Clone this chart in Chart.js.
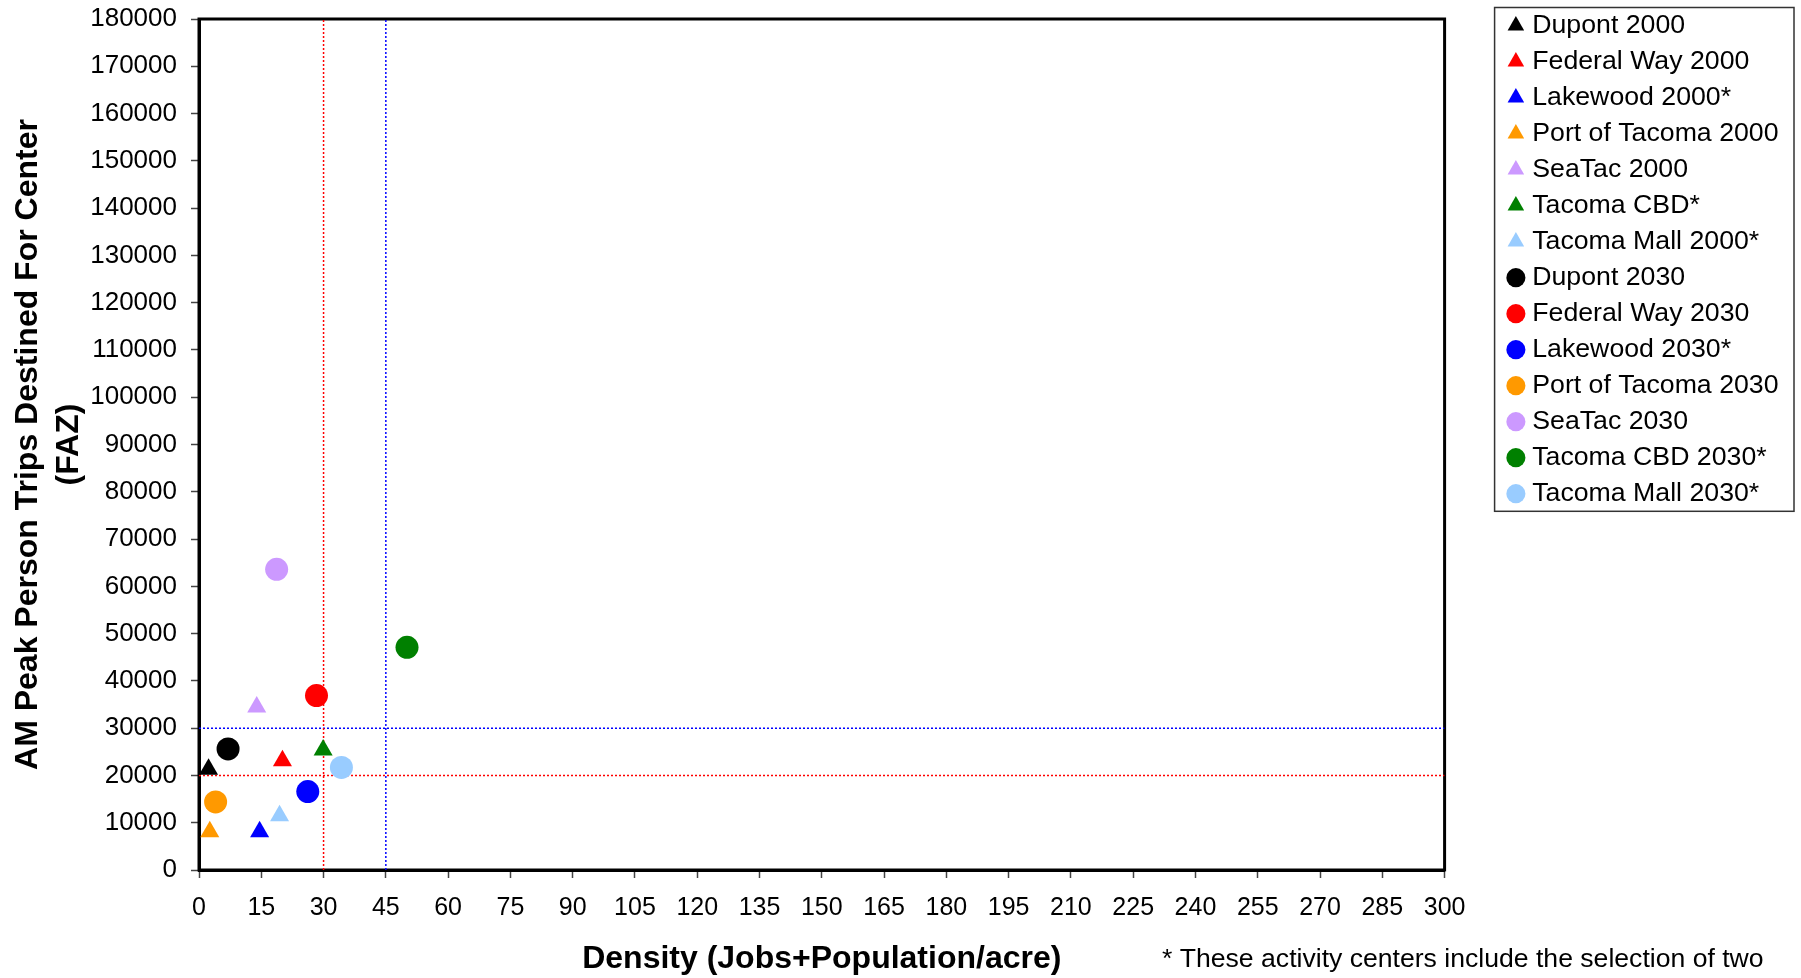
<!DOCTYPE html>
<html>
<head>
<meta charset="utf-8">
<script src="https://cdn.jsdelivr.net/npm/chart.js@4.4.1/dist/chart.umd.min.js"></script>
<style>
  html, body { margin: 0; padding: 0; background: #ffffff; }
  #wrap { width: 1801px; height: 978px; position: relative; }
</style>
</head>
<body>
<div id="wrap"><canvas id="chart"></canvas></div>
<script>
// Activity centers: density vs. AM peak person trips destined for the center
const labels2000 = ['Dupont 2000', 'Federal Way 2000', 'Lakewood 2000*', 'Port of Tacoma 2000',
                    'SeaTac 2000', 'Tacoma CBD*', 'Tacoma Mall 2000*'];
const labels2030 = ['Dupont 2030', 'Federal Way 2030', 'Lakewood 2030*', 'Port of Tacoma 2030',
                    'SeaTac 2030', 'Tacoma CBD 2030*', 'Tacoma Mall 2030*'];

const density2000 = [2.3, 20.1, 14.6, 2.6, 13.9, 29.9, 19.4];
const trips2000   = [21300, 23100, 8100, 8100, 34500, 25400, 11500];
const density2030 = [7.0, 28.3, 26.2, 4.0, 18.7, 50.1, 34.3];
const trips2030   = [25600, 36900, 16600, 14400, 63600, 47100, 21700];

// Threshold guides (density and trips), red = first, blue = second
const densityThresholds = [30, 45];
const tripThresholds    = [20000, 30000];

// Axis ticks
const xTickValues = [0, 15, 30, 45, 60, 75, 90, 105, 120, 135, 150, 165, 180, 195, 210, 225, 240, 255, 270, 285, 300];
const yTickValues = [0, 10000, 20000, 30000, 40000, 50000, 60000, 70000, 80000, 90000, 100000,
                     110000, 120000, 130000, 140000, 150000, 160000, 170000, 180000];

const xTitle = 'Density (Jobs+Population/acre)';
const yTitle = ['AM Peak Person Trips Destined For Center', '(FAZ)'];
const footnote = '* These activity centers include the selection of two';

// Styling
const centerColors = ['#000000', '#FF0000', '#0000FF', '#FF9900', '#CC99FF', '#008000', '#99CCFF'];
const thresholdColors = ['#FF0000', '#0000FF'];
const FONT = '"Liberation Sans", Arial, Helvetica, sans-serif';
const LEGEND_SIZE = 26.7;
const LEGEND_PAD = 9.3;

const datasets = [];
labels2000.forEach((name, i) => {
  datasets.push({
    label: name,
    data: [{ x: density2000[i], y: trips2000[i] }],
    pointStyle: 'triangle',
    pointRadius: 11,
    pointHoverRadius: 11,
    backgroundColor: centerColors[i],
    borderColor: centerColors[i],
    borderWidth: 0,
    order: 0
  });
});
labels2030.forEach((name, i) => {
  datasets.push({
    label: name,
    data: [{ x: density2030[i], y: trips2030[i] }],
    pointStyle: 'circle',
    pointRadius: 11.5,
    pointHoverRadius: 11.5,
    backgroundColor: centerColors[i],
    borderColor: centerColors[i],
    borderWidth: 0,
    order: 0
  });
});

const xMin = xTickValues[0], xMax = xTickValues[xTickValues.length - 1];
const yMin = yTickValues[0], yMax = yTickValues[yTickValues.length - 1];
const guideStyle = (color) => ({
  label: '',
  isGuide: true,
  showLine: true,
  borderColor: color,
  borderWidth: 1.5,
  borderDash: [2, 2],
  pointRadius: 0,
  pointHoverRadius: 0,
  fill: false,
  order: 1
});
densityThresholds.forEach((d, j) => {
  datasets.push(Object.assign(guideStyle(thresholdColors[j]), { data: [{ x: d, y: yMin }, { x: d, y: yMax }] }));
});
tripThresholds.forEach((t, j) => {
  datasets.push(Object.assign(guideStyle(thresholdColors[j]), { data: [{ x: xMin, y: t }, { x: xMax, y: t }] }));
});

// Plot frame, legend border and footnote
const decorations = {
  id: 'decorations',
  beforeDatasetsDraw(chart) {
    const { ctx, chartArea: a } = chart;
    ctx.save();
    ctx.strokeStyle = '#000000';
    ctx.lineWidth = 3;
    ctx.strokeRect(a.left, a.top, a.right - a.left, a.bottom - a.top);
    ctx.restore();
  },
  afterDraw(chart) {
    const { ctx, legend } = chart;
    ctx.save();
    const n = legend.legendItems.length;
    const itemH = LEGEND_SIZE;
    const top = legend.top + 4.5;
    const bottom = legend.top + LEGEND_PAD + n * (itemH + LEGEND_PAD) - 5;
    const left = legend.left - 9;
    const right = legend.right + 5.5;
    ctx.strokeStyle = '#333333';
    ctx.lineWidth = 1.5;
    ctx.strokeRect(left, top, right - left, bottom - top);

    ctx.fillStyle = '#000000';
    ctx.font = '26.6px ' + FONT;
    ctx.textAlign = 'left';
    ctx.textBaseline = 'middle';
    ctx.fillText(footnote, 1162, 960);
    ctx.restore();
  }
};

new Chart(document.getElementById('chart'), {
  type: 'scatter',
  data: { datasets },
  plugins: [decorations],
  options: {
    responsive: true,
    maintainAspectRatio: false,
    animation: false,
    devicePixelRatio: 1,
    layout: { padding: { top: 3, right: 12.5, bottom: 0, left: 0 } },
    plugins: {
      tooltip: { enabled: false },
      title: {
        display: true,
        text: '',
        font: { size: 1, lineHeight: 1 },
        padding: { top: 0, bottom: 15 }
      },
      legend: {
        position: 'right',
        align: 'start',
        labels: {
          usePointStyle: true,
          boxWidth: 6,
          boxHeight: 13.5,
          padding: LEGEND_PAD,
          color: '#000000',
          font: { family: FONT, size: LEGEND_SIZE },
          filter: (item, data) => !data.datasets[item.datasetIndex].isGuide
        }
      }
    },
    scales: {
      x: {
        type: 'linear',
        position: 'bottom',
        min: xMin,
        max: xMax,
        afterBuildTicks: (s) => { s.ticks = xTickValues.map(v => ({ value: v })); },
        afterFit: (s) => { s.height = 108; s.paddingLeft = 0; s.paddingRight = 0; },
        grid: { drawOnChartArea: false, drawTicks: true, tickLength: 8, tickColor: '#444444', tickWidth: 1.5 },
        border: { display: true, color: '#000000', width: 3 },
        ticks: {
          autoSkip: false,
          maxRotation: 0,
          padding: 15,
          color: '#000000',
          font: { family: FONT, size: 25 },
          callback: (v) => String(v)
        },
        title: {
          display: true,
          text: xTitle,
          color: '#000000',
          font: { family: FONT, size: 32, weight: 'bold', lineHeight: 1.2 },
          padding: { top: 0, bottom: 0 }
        }
      },
      y: {
        type: 'linear',
        position: 'left',
        min: yMin,
        max: yMax,
        afterBuildTicks: (s) => { s.ticks = yTickValues.map(v => ({ value: v })); },
        afterFit: (s) => { s.width = 199; s.paddingTop = 0; s.paddingBottom = 0; },
        grid: { drawOnChartArea: false, drawTicks: true, tickLength: 8, tickColor: '#444444', tickWidth: 1.5 },
        border: { display: true, color: '#000000', width: 3 },
        ticks: {
          autoSkip: false,
          padding: 14,
          color: '#000000',
          font: { family: FONT, size: 26 },
          callback: (v) => String(v)
        },
        title: {
          display: true,
          text: yTitle,
          color: '#000000',
          font: { family: FONT, size: 32, weight: 'bold', lineHeight: 1.3 },
          padding: { top: 7, bottom: 0 }
        }
      },
      // spacer between the plot and the legend
      gap: {
        type: 'linear',
        position: 'right',
        display: true,
        grid: { display: false, drawTicks: false },
        border: { display: false },
        ticks: { display: false },
        afterFit: (s) => { s.width = 59; s.paddingTop = 0; s.paddingBottom = 0; }
      }
    }
  }
});
</script>
</body>
</html>
